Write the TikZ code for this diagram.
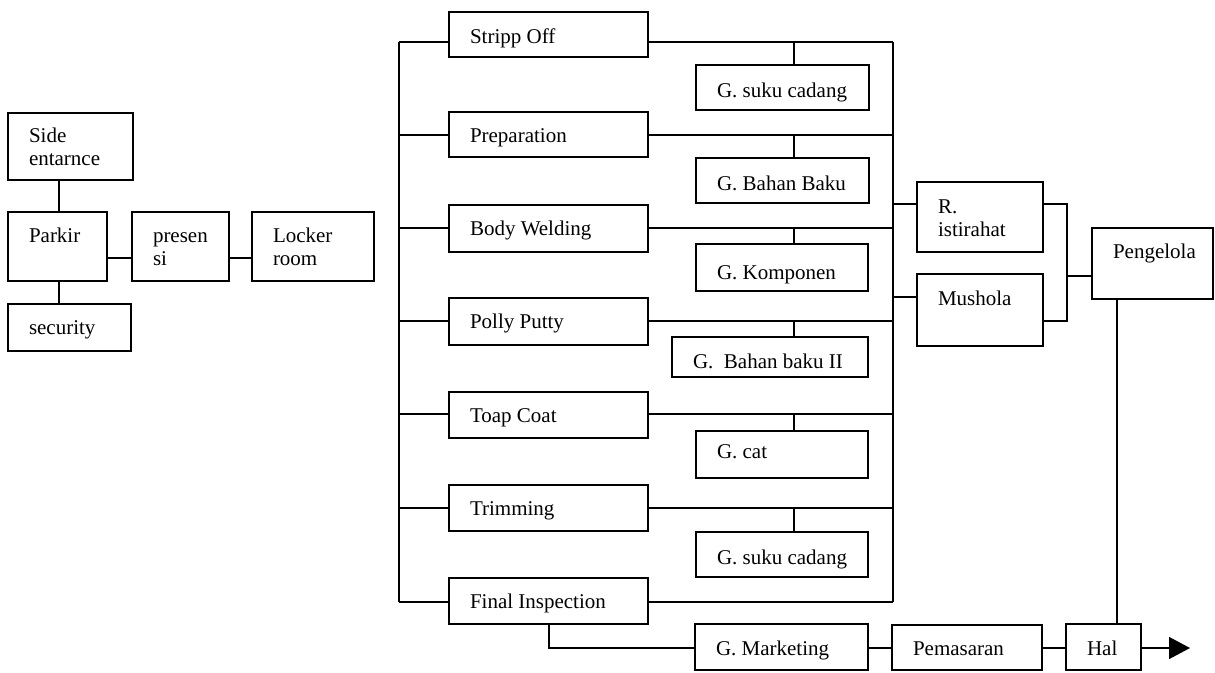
\documentclass[tikz,border=0pt]{standalone}
\usepackage{fontspec}
\setmainfont{Liberation Serif}
\usetikzlibrary{arrows.meta}
% \bx[baseline drop]{name}{left}{top}{width}{height}{text}
\newcommand\bx[7][30]{%
  \node[boxst, minimum width=#5pt, minimum height=#6pt, anchor=north west] (#2) at (#3,#4) {};
  \node[txtst, anchor=base west] (#2-t) at ([xshift=21pt, yshift=-#1pt]#2.north west) {#7};
}
\begin{document}
\begin{tikzpicture}[x=1pt, y=-1pt, line width=1.4pt,
  boxst/.style={draw, rectangle, inner sep=0pt, outer sep=0pt},
  txtst/.style={inner sep=0pt, outer sep=0pt, align=left, font=\fontsize{21}{23}\selectfont},
  arrowtip/.style={-{Triangle[length=21pt, width=22pt]}}]
\useasboundingbox (0,0) rectangle (1215,672);

% entrance area (two-line labels sit one line lower: base is the last line)
\bx[52]{side}{8}{113}{125}{67}{Side\\entarnce}
\bx{parkir}{8}{212}{99}{69}{Parkir}
\bx[53]{presensi}{132}{212}{97}{69}{presen\\si}
\bx[53]{locker}{252}{212}{122}{69}{Locker\\room}
\bx{security}{8}{304}{123}{47}{security}

% production line
\bx[31]{stripp}{449}{12}{199}{45}{Stripp Off}
\bx{prep}{449}{112}{199}{45}{Preparation}
\bx{body}{449}{205}{199}{47}{Body Welding}
\bx{polly}{449}{298}{199}{47}{Polly Putty}
\bx{toap}{449}{392}{199}{46}{Toap Coat}
\bx{trim}{449}{485}{199}{46}{Trimming}
\bx{final}{449}{578}{199}{46}{Final Inspection}

% stores
\bx[32]{gsc}{696}{65}{173}{45}{G. suku cadang}
\bx[32]{gbb}{696}{158}{173}{45}{G. Bahan Baku}
\bx[35]{gkomp}{696}{244}{172}{47}{G. Komponen}
\bx[31]{gbbb}{672}{337}{196}{40}{G.~~Bahan baku II}
\bx[27]{gcat}{696}{431}{172}{47}{G. cat}
\bx[32]{gscb}{696}{532}{172}{45}{G. suku cadang}

% facilities and management
\bx[54]{rist}{917}{182}{126}{70}{R.\\istirahat}
\bx[31]{mush}{917}{274}{126}{72}{Mushola}
\bx[30]{peng}{1092}{228}{121}{71}{Pengelola}

% dispatch row
\bx[31]{gmkt}{695}{624}{173}{46}{G. Marketing}
\bx[30]{pem}{892}{625}{150}{45}{Pemasaran}
\bx[31]{hal}{1066}{624}{75}{46}{Hal}

% routing coordinates
\coordinate (lx) at (59,0);
\coordinate (rowL) at (0,258);
\coordinate (lb) at (399,0);
\coordinate (rb) at (893,0);
\coordinate (tap) at (794,0);
\coordinate (ry) at (0,204);
\coordinate (my) at (0,297);
\coordinate (my2) at (0,321);
\coordinate (mx) at (1067,0);
\coordinate (py) at (0,276);
\coordinate (hx) at (1117,0);
\coordinate (fx) at (549,0);
\coordinate (by) at (0,648);
\coordinate (tip) at (1190,648);

% entrance connectors
\draw (parkir.north -| lx) -- (side.south -| lx);
\draw (parkir.south -| lx) -- (security.north -| lx);
\draw (parkir.east |- rowL) -- (presensi.west |- rowL);
\draw (presensi.east |- rowL) -- (locker.west |- rowL);

% buses on both sides of the line
\coordinate (r1) at (0,42);
\coordinate (r7) at (0,602);
\draw (lb |- r1) -- (lb |- r7);
\draw (rb |- r1) -- (rb |- r7);
\draw (stripp.west |- r1) -- (lb |- r1);
\draw (stripp.east |- r1) -- (rb |- r1);
\draw (gsc.north -| tap) -- (tap |- r1);
\draw (final.west |- r7) -- (lb |- r7);
\draw (final.east |- r7) -- (rb |- r7);
\foreach \p/\g/\r in {prep/gbb/135, body/gkomp/228, polly/gbbb/321, toap/gcat/414, trim/gscb/508}{
  \coordinate (row) at (0,\r);
  \draw (\p.west |- row) -- (lb |- row);
  \draw (\p.east |- row) -- (rb |- row);
  \draw (\g.north -| tap) -- (tap |- row);
}

% facilities to management
\draw (rb |- ry) -- (rist.west |- ry);
\draw (rb |- my) -- (mush.west |- my);
\draw (rist.east |- ry) -- (mx |- ry) -- (mx |- my2) -- (mush.east |- my2);
\draw (mx |- py) -- (peng.west |- py);
\draw (peng.south -| hx) -- (hal.north -| hx);

% dispatch connectors
\draw (final.south -| fx) |- (gmkt.west |- by);
\draw (gmkt.east |- by) -- (pem.west |- by);
\draw (pem.east |- by) -- (hal.west |- by);
\draw[arrowtip] (hal.east |- by) -- (tip);
\end{tikzpicture}
\end{document}
